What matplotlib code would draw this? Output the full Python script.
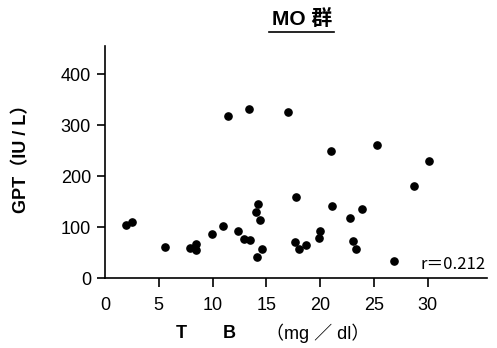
import matplotlib
matplotlib.use("Agg")
import matplotlib.pyplot as plt
from matplotlib.lines import Line2D

plt.rcParams['font.family'] = ['Liberation Sans', 'Noto Sans CJK JP', 'DejaVu Sans']

# TB (mg/dl) vs GPT (IU/L)
tb = [2.0, 2.56, 5.62, 7.9, 8.43, 8.5, 9.92, 11.0, 11.4, 12.33, 12.94, 13.5,
      13.4, 14.06, 14.24, 14.4, 14.15, 14.58, 17.0, 17.76, 17.67, 18.04, 18.69,
      19.86, 20.0, 21.04, 21.13, 22.77, 23.08, 23.3, 23.9, 25.24, 26.85, 28.76, 30.09]
gpt = [103.6, 109.5, 61, 59, 55.7, 67.5, 86, 103, 318, 92.5, 76, 75.4,
       333, 130.5, 145, 115, 40.7, 58, 326.6, 160, 71.5, 58, 65,
       78.7, 92.5, 250.5, 142, 117, 73.4, 57.7, 136, 261.6, 34, 181.6, 230]
xticks = [0, 5, 10, 15, 20, 25, 30]
yticks = [0, 100, 200, 300, 400]

fig = plt.figure(figsize=(4.97, 3.48), dpi=100)
ax = fig.add_axes([0.211, 0.201, 0.769, 0.667])
ax.plot(tb, gpt, 'o', color='black', markersize=5.2)

ax.set_xlim(0, 35.5)
ax.set_ylim(0, 456)
ax.set_xticks(xticks)
ax.set_yticks(yticks)
ax.spines['top'].set_visible(False)
ax.spines['right'].set_visible(False)
for s in ['left', 'bottom']:
    ax.spines[s].set_linewidth(1.2)
ax.tick_params(axis='y', direction='out', length=6, width=1.2, pad=4, labelsize=13)
ax.tick_params(axis='x', direction='out', length=6.5, width=1.2, pad=7, labelsize=13)
ax.xaxis.get_major_ticks()[0].tick1line.set_visible(False)

ax.text(0.995, 0.06, 'r＝0.212', transform=ax.transAxes, ha='right', va='center',
        fontsize=12, family=['Liberation Sans Narrow', 'Noto Sans CJK JP'])

# title with underline
fig.text(0.607, 0.945, 'MO 群', ha='center', va='center', fontsize=15, fontweight='bold')
fig.add_artist(Line2D([269 / 497, 334 / 497], [1 - 32 / 348, 1 - 32 / 348],
                      color='black', linewidth=1.2))

fig.text(0.043, 0.555, 'GPT（IU / L）', rotation=90, ha='center', va='center',
         fontsize=13, fontweight='bold')

fig.text(181 / 497, 1 - 333 / 348, 'T', ha='center', va='center', fontsize=13, fontweight='bold')
fig.text(229 / 497, 1 - 333 / 348, 'B', ha='center', va='center', fontsize=13, fontweight='bold')
fig.text(318 / 497, 1 - 333 / 348, '（mg ／ dl）', ha='center', va='center', fontsize=13)

fig.savefig('out.png', dpi=100)
